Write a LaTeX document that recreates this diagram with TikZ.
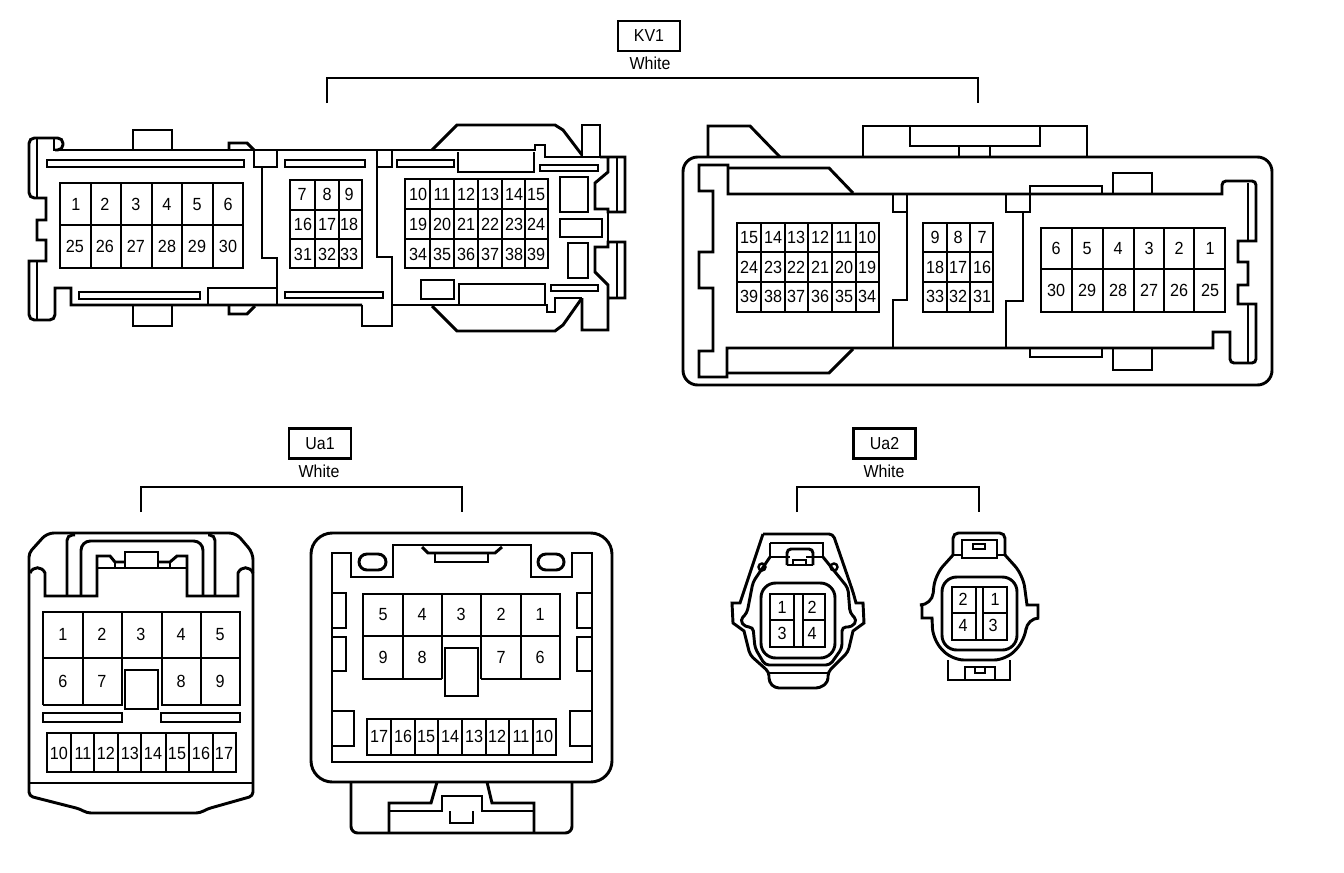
\documentclass[tikz,border=0pt]{standalone}
\usepackage{fontspec}
\setmainfont[FakeStretch=0.92]{Liberation Sans}
\tikzset{
  ln/.style={draw=black,line width=2.2pt,line join=miter},
  pinlabel/.style={inner sep=0pt,text height=9.1pt,text depth=0pt,font=\fontsize{13.2pt}{14pt}\selectfont,text=black},
  titlebox/.style={draw=black,line width=2pt,inner sep=0pt,minimum width=46.5pt,minimum height=22.5pt,font=\fontsize{13pt}{14pt}\selectfont},
  colourlabel/.style={inner sep=0pt,font=\fontsize{13pt}{14pt}\selectfont},
}
\newcommand{\pinset}[3]{\foreach \px/\pt in {#3}{\node[pinlabel] (#1\pt) at (\px,#2) {\pt};}}
\begin{document}
\begin{tikzpicture}[x=0.75pt,y=-0.75pt]
\useasboundingbox (0,0) rectangle (1344,872);

% ---- titles
\node[titlebox] (kv) at (649,36) {KV1};
\node[colourlabel] (kvw) at (650,63) {White};
\coordinate (kvl) at (327,103); \coordinate (kvr) at (978,103);
\draw[ln] (kvl) -- (327,78) -- (978,78) -- (kvr);
\node[titlebox] (uaa) at (320,443.5) {Ua1};
\node[colourlabel] (uaaw) at (319,471) {White};
\coordinate (uaal) at (141,512); \coordinate (uaar) at (462,512);
\draw[ln] (uaal) -- (141,487) -- (462,487) -- (uaar);
\node[titlebox] (uab) at (884.5,443.5) {Ua2};
\node[colourlabel] (uabw) at (884,471) {White};
\coordinate (uabl) at (797,512); \coordinate (uabr) at (979,512);
\draw[ln] (uabl) -- (797,487) -- (979,487) -- (uabr);

% ---- KV1 left connector
\begin{scope}[every path/.style={ln}]
\draw[rounded corners=4pt] (55,150) -- (63,150) -- (63,138) -- (29,138) -- (29,198) [sharp corners] -- (46,198) -- (46,220) -- (37,220) -- (37,240) -- (46,240) -- (46,261) -- (29,261) [rounded corners=4pt] -- (29,320) -- (55,320) [sharp corners] -- (55,288) -- (71,288) -- (71,305) -- (362,305);
\draw (37,139) -- (37,197) (37,261) -- (37,320) (54,139) -- (54,150) -- (432,150);
\draw (133,150) -- (133,130) -- (172,130) -- (172,150);
\draw (133,306) -- (133,326) -- (172,326) -- (172,306);
\draw (229,150) -- (229,143) -- (247,143) -- (255,151);
\draw (229,305) -- (229,314) -- (247,314) -- (255,306);
\draw (254,150) -- (254,167) -- (277,167) -- (277,150);
\draw (262,167) -- (262,258) -- (277,258) -- (277,305);
\draw (208,305) -- (208,288) -- (277,288);
\draw (47,160) rectangle (244,167);
\draw (79,292) rectangle (200,299);
\draw (285,160) rectangle (365,167);
\draw (285,292) rectangle (383,298);
\draw (377,150) -- (377,167) -- (392,167) -- (392,150);
\draw (377,167) -- (377,257) -- (392,257) -- (392,326) -- (362,326) -- (362,305);
\draw (392,305) -- (547,305) -- (547,312) -- (555,312) -- (555,298) -- (582,298);
\draw (432,150) -- (535,150) -- (535,145) -- (545,145) -- (545,157) -- (600,157) -- (600,125) -- (582,125) -- (582,157);
\draw (432,150) -- (457,125) -- (555,125) -- (563,130) -- (582,155);
\draw (432,306) -- (457,331) -- (555,331) -- (563,325) -- (582,298);
\draw (582,298) -- (582,330) -- (608,330) -- (608,285) -- (595,272) -- (595,247) -- (608,247) -- (608,242) -- (625,242) -- (625,298) -- (608,298);
\draw (617,242) -- (617,298);
\draw (600,157) -- (625,157) -- (625,212) -- (608,212) -- (608,209) -- (595,209) -- (595,183) -- (608,172) -- (608,157);
\draw (617,158) -- (617,212);
\draw (608,212) -- (608,242);
\draw (458,152) -- (458,172) -- (534,172) -- (534,152);
\draw (540,165) rectangle (598,171);
\draw (397,160) rectangle (454,167);
\draw (560,177) rectangle (588,212);
\draw (560,219) rectangle (602,237);
\draw (568,243) rectangle (588,278);
\draw (421,280) rectangle (454,299);
\draw (459,305) -- (459,284) -- (545,284) -- (545,305);
\draw (551,285) rectangle (598,291);
% grids
\draw (60,183) rectangle (243,268) (60,225) -- (243,225);
\foreach \c in {91,121,152,182,213} \draw (\c,183) -- (\c,268);
\draw (290,180) rectangle (362,268) (290,210) -- (362,210) (290,239) -- (362,239) (315,180) -- (315,268) (339,180) -- (339,268);
\draw (405,179) rectangle (548,268) (405,209) -- (548,209) (405,239) -- (548,239);
\foreach \c in {430,454,478,502,525} \draw (\c,179) -- (\c,268);
\end{scope}
\pinset{a}{204}{76/1,105/2,136/3,167/4,197/5,228/6}
\pinset{a}{246}{75/25,105/26,136/27,167/28,197/29,228/30}
\pinset{a}{194}{302/7,327/8,349/9,418/10,442/11,466/12,490/13,514/14,536/15}
\pinset{a}{224}{303/16,327/17,349/18,418/19,442/20,466/21,490/22,514/23,536/24}
\pinset{a}{254}{303/31,327/32,349/33,418/34,442/35,466/36,490/37,514/38,536/39}

% ---- KV1 right connector
\begin{scope}[every path/.style={ln}]
\draw[rounded corners=11pt] (780,157) -- (1272,157) -- (1272,385) -- (683,385) -- (683,157) -- (780,157);
\draw (708,157) -- (708,126) -- (750,126) -- (780,157);
\draw (863,157) -- (863,126) -- (1087,126) -- (1087,157);
\draw (910,126) -- (910,146) -- (1040,146) -- (1040,126);
\draw (959,146) -- (959,157) (990,146) -- (990,157);
\draw (727,168) -- (829,168) -- (853,193);
\draw (727,373) -- (829,373) -- (853,349);
\draw (699,165) -- (728,165) -- (728,194) -- (1222,194) [rounded corners=3pt] -- (1222,181) -- (1256,181) [sharp corners] -- (1256,241) -- (1238,241) -- (1238,262) -- (1248,262) -- (1248,285) -- (1238,285) -- (1238,304) -- (1256,304) [rounded corners=3pt] -- (1256,363) -- (1230,363) [sharp corners] -- (1230,332) -- (1213,332) -- (1213,348) -- (727,348) -- (727,377) -- (699,377) -- (699,351) -- (713,351) -- (713,288) -- (699,288) -- (699,252) -- (713,252) -- (713,191) -- (699,191) -- cycle;
\draw (1248,183) -- (1248,241) (1248,304) -- (1248,362);
\draw (893,194) -- (893,212) -- (907,212) -- (907,194);
\draw (907,212) -- (907,300) -- (893,300) -- (893,348);
\draw (1006,194) -- (1006,212) -- (1030,212) -- (1030,186) -- (1102,186) -- (1102,194);
\draw (1023,212) -- (1023,301) -- (1006,301) -- (1006,348);
\draw (1030,348) -- (1030,357) -- (1102,357) -- (1102,348);
\draw (1113,194) -- (1113,173) -- (1152,173) -- (1152,194);
\draw (1113,348) -- (1113,370) -- (1152,370) -- (1152,348);
\draw (737,223) rectangle (879,312) (737,252) -- (879,252) (737,282) -- (879,282);
\foreach \c in {761,785,808,832,856} \draw (\c,223) -- (\c,312);
\draw (923,223) rectangle (993,312) (923,252) -- (993,252) (923,282) -- (993,282) (947,223) -- (947,312) (970,223) -- (970,312);
\draw (1041,228) rectangle (1225,312) (1041,269) -- (1225,269);
\foreach \c in {1072,1103,1134,1164,1194} \draw (\c,228) -- (\c,312);
\end{scope}
\pinset{b}{237}{749/15,773/14,796/13,820/12,844/11,867/10,935/9,958/8,982/7}
\pinset{b}{267}{749/24,773/23,796/22,820/21,844/20,867/19,935/18,958/17,982/16}
\pinset{b}{296}{749/39,773/38,796/37,820/36,844/35,867/34,935/33,958/32,982/31}
\pinset{b}{248}{1056/6,1087/5,1118/4,1149/3,1179/2,1210/1}
\pinset{b}{290}{1056/30,1087/29,1118/28,1149/27,1179/26,1210/25}

% ---- Ua1 left connector
\begin{scope}[every path/.style={ln}]
\draw[rounded corners=3pt] (29,700) -- (29,553) [rounded corners=5pt] -- (47,533) -- (236,533) -- (253,553) [rounded corners=3pt] -- (253,796) -- (207,809) -- (200,813) -- (87,813) -- (80,809) -- (29,796) -- (29,700);
\draw (29,783) -- (253,783);
\draw (30,573) .. controls (33,566) and (42,566) .. (45,573) -- (45,596) -- (97,596) -- (97,556) -- (110,556) -- (115,562) -- (125,562);
\draw (125,567) -- (125,552) -- (158,552) -- (158,567);
\draw (158,562) -- (170,562) -- (177,556) -- (187,556) -- (187,596) -- (238,596) -- (238,573) .. controls (241,566) and (250,566) .. (253,573);
\draw (97,568) -- (187,568) (115,562) -- (115,568) (170,562) -- (170,568);
\draw[rounded corners=4pt] (67,596) -- (67,535) -- (75,535);
\draw[rounded corners=7pt] (81,596) -- (81,541) -- (203,541) -- (203,596);
\draw[rounded corners=4pt] (215,596) -- (215,535) -- (208,535);
\draw (43,705) -- (43,612) -- (240,612) -- (240,705) -- (162,705) -- (162,612);
\draw (43,705) -- (122,705) -- (122,612);
\draw (43,658) -- (240,658) (83,612) -- (83,705) (201,612) -- (201,705);
\draw (125,670) rectangle (158,709);
\draw (43,713) rectangle (122,722);
\draw (161,713) rectangle (240,722);
\draw (47,733) rectangle (236,772);
\foreach \c in {71,94,118,141,166,189,213} \draw (\c,733) -- (\c,772);
\end{scope}
\pinset{c}{634}{63/1,102/2,141/3,181/4,220/5}
\pinset{c}{681}{63/6,102/7,181/8,220/9}
\pinset{c}{753}{59/10,83/11,106/12,130/13,153/14,177/15,201/16,224/17}

% ---- Ua1 right connector
\begin{scope}[every path/.style={ln}]
\draw[rounded corners=16pt] (450,533) -- (612,533) -- (612,782) -- (311,782) -- (311,533) -- (450,533);
\draw (332,553) -- (351,553) -- (351,577) -- (393,577) -- (393,545) -- (531,545) -- (531,577) -- (572,577) -- (572,553) -- (592,553) -- (592,762) -- (332,762) -- cycle;
\draw[rounded corners=6pt] (359,554) rectangle (386,570);
\draw[rounded corners=6pt] (538,554) rectangle (564,570);
\draw (422,547) -- (428,553) -- (495,553) -- (502,547);
\draw (435,553) -- (435,562) -- (488,562) -- (488,553);
\draw (332,593) -- (346,593) -- (346,628) -- (332,628);
\draw (332,637) -- (346,637) -- (346,671) -- (332,671);
\draw (592,593) -- (577,593) -- (577,628) -- (592,628);
\draw (592,637) -- (577,637) -- (577,671) -- (592,671);
\draw (332,711) -- (354,711) -- (354,746) -- (332,746);
\draw (592,711) -- (570,711) -- (570,746) -- (592,746);
\draw (442,679) -- (363,679) -- (363,594) -- (560,594) -- (560,679) -- (481,679);
\draw (442,594) -- (442,679) (481,594) -- (481,679) (363,636) -- (560,636) (403,594) -- (403,679) (521,594) -- (521,679);
\draw (445,648) rectangle (478,696);
\draw (367,719) rectangle (556,755);
\foreach \c in {391,415,438,462,486,509,533} \draw (\c,719) -- (\c,755);
\draw[rounded corners=5pt] (351,782) -- (351,833) -- (572,833) -- (572,782);
\draw (437,782) -- (431,803) -- (389,803) -- (389,833);
\draw (389,811) -- (442,811) -- (442,796) -- (482,796) -- (482,811) -- (534,811);
\draw (534,833) -- (534,803) -- (492,803) -- (487,782);
\draw (450,811) -- (450,823) -- (473,823) -- (473,811);
\end{scope}
\pinset{d}{614}{383/5,422/4,461/3,501/2,540/1}
\pinset{d}{657}{383/9,422/8,501/7,540/6}
\pinset{d}{736}{379/17,403/16,426/15,450/14,474/13,497/12,521/11,544/10}

% ---- Ua2 left connector
\begin{scope}[every path/.style={ln}]
\draw[rounded corners=3pt] (763,534) -- (833,534) -- (853,592) [sharp corners] -- (856,603) -- (863,603) -- (864,623) -- (853,631) [rounded corners=3pt] -- (848,652) -- (828,672) -- (828,682) -- (820,688) -- (775,688) -- (769,682) -- (769,672) -- (750,655) [sharp corners] -- (744,631) -- (733,623) -- (732,603) -- (740,603) [rounded corners=3pt] -- (763,534);
\draw[rounded corners=3pt] (770,557) -- (753,582) -- (747,613) -- (740,620) -- (745,627) -- (753,627) -- (755,648) -- (765,665) -- (830,665) -- (842,648) -- (842,627) -- (852,627) -- (857,620) -- (850,613) -- (848,588) -- (823,557);
\draw (770,543) -- (823,543) -- (823,557) -- (806,557) (770,543) -- (770,557) -- (790,557);
\draw[rounded corners=3pt] (787,565) -- (787,549) -- (813,549) -- (813,565);
\draw (787,565) -- (813,565) (793,565) -- (793,560) -- (806,560) -- (806,565);
\draw[rounded corners=11pt] (761,583) rectangle (835,658);
\draw[line width=1.8pt] (762,567) circle (3.5) (834,567) circle (3.5);
\draw (770,594) rectangle (825,647) (794,594) -- (794,647) (803,594) -- (803,647) (770,620) -- (794,620) (803,620) -- (825,620);
\draw (769,673) -- (828,673);
\end{scope}
\pinset{e}{607}{782/1,812/2}
\pinset{e}{633}{782/3,812/4}

% ---- Ua2 right connector
\begin{scope}[every path/.style={ln}]
\draw[rounded corners=4pt] (953,555) -- (953,533) -- (1005,533) -- (1005,555);
\draw[rounded corners=9pt] (953,555) -- (935,575) -- (932,605) [sharp corners] -- (922,605) -- (922,618) -- (932,618) [rounded corners=9pt] -- (933,640) -- (952,660) -- (1006,660) -- (1025,640) -- (1027,618) [sharp corners] -- (1038,618) -- (1038,605) -- (1027,605) [rounded corners=9pt] -- (1023,575) -- (1005,555);
\draw (962,540) rectangle (997,558);
\draw (973,544) rectangle (985,549);
\draw (953,555) -- (962,555) (997,555) -- (1005,555);
\draw[rounded corners=11pt] (942,577) rectangle (1017,650);
\draw (952,587) rectangle (1007,640) (976,587) -- (976,640) (983,587) -- (983,640) (952,613) -- (976,613) (983,613) -- (1007,613);
\draw (948,660) -- (948,680) -- (1010,680) -- (1010,660);
\draw (965,680) -- (965,667) -- (995,667) -- (995,680);
\draw (975,667) -- (975,673) -- (985,673) -- (985,667);
\end{scope}
\pinset{f}{599}{963/2,995/1}
\pinset{f}{625}{963/4,993/3}
\end{tikzpicture}
\end{document}
